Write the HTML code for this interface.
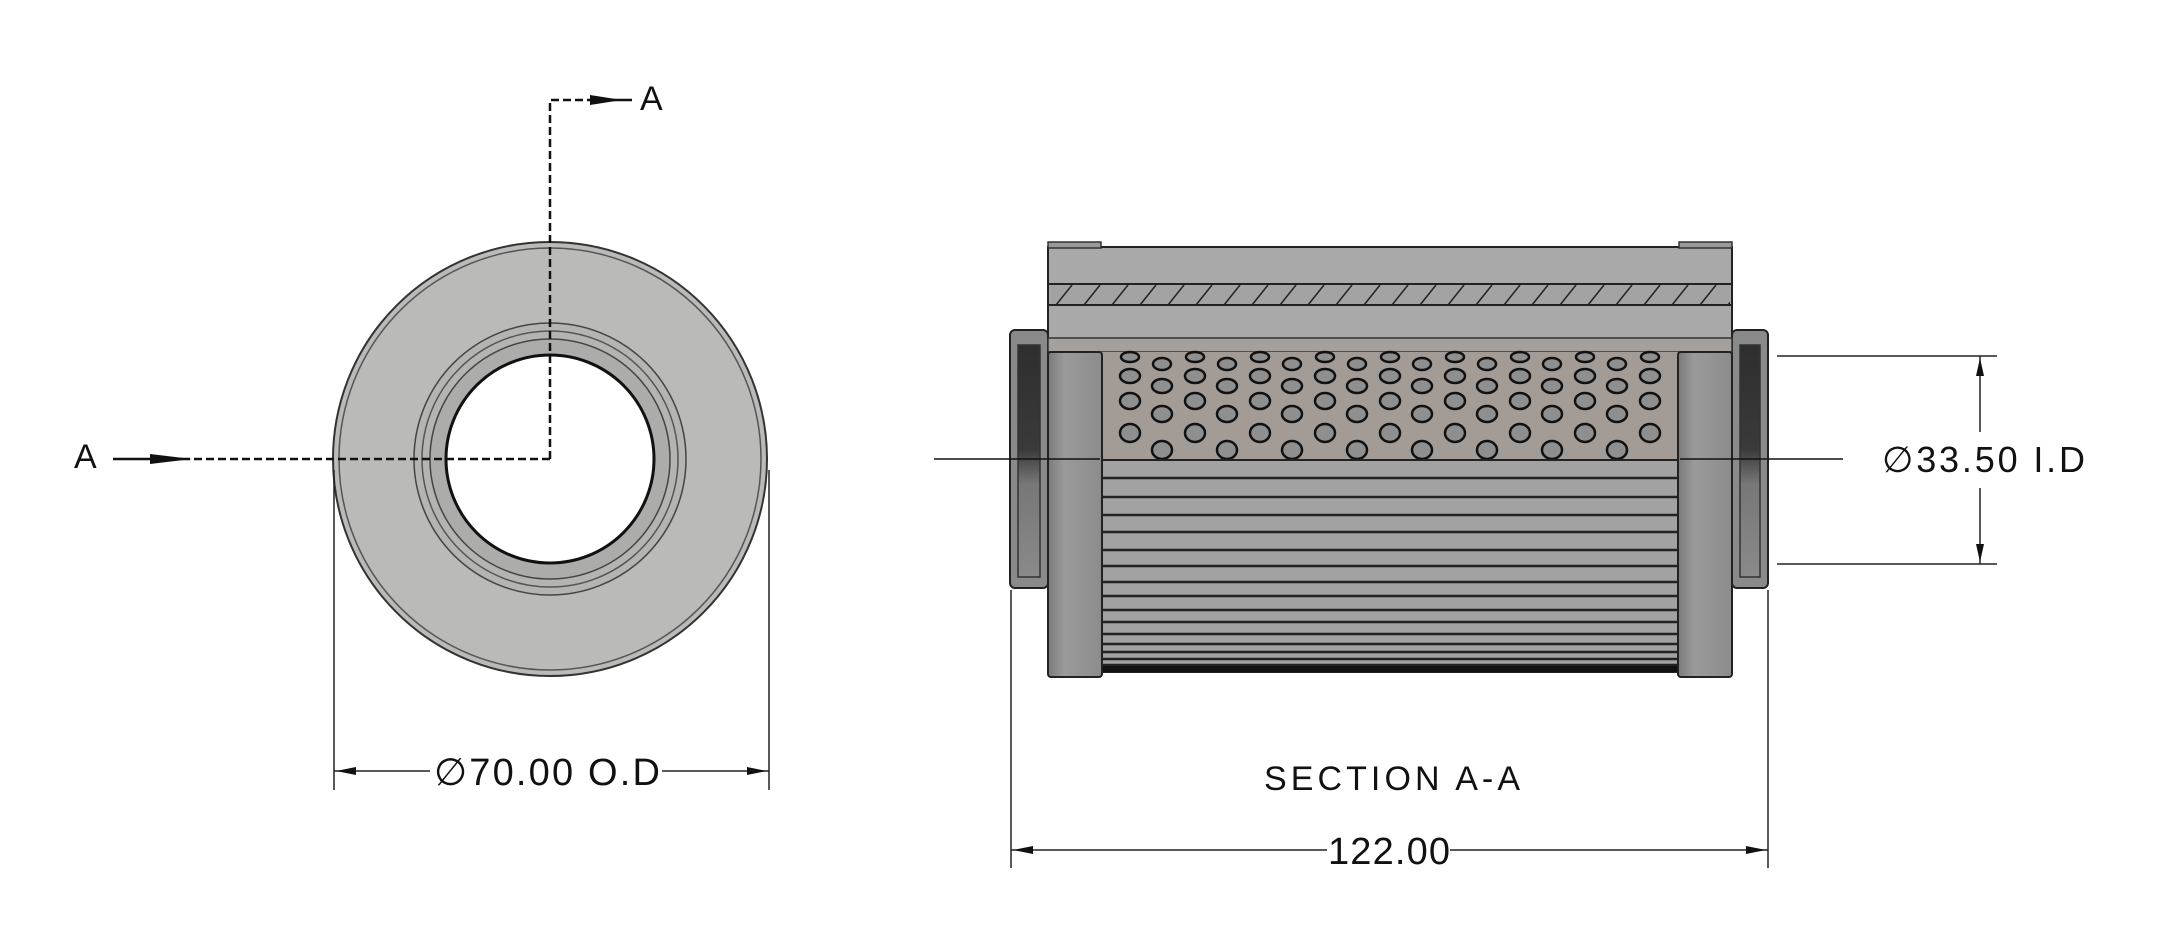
<!DOCTYPE html>
<html><head><meta charset="utf-8"><style>
html,body{margin:0;padding:0;background:#fff}
svg{display:block}
text{font-family:"Liberation Sans",sans-serif;fill:#111}
</style></head><body>
<svg width="2160" height="943" viewBox="0 0 2160 943" xmlns="http://www.w3.org/2000/svg">
<defs>
<linearGradient id="cap" x1="0" x2="1" y1="0" y2="0">
<stop offset="0" stop-color="#7a7a7a"/><stop offset="0.3" stop-color="#9a9a9a"/><stop offset="1" stop-color="#8c8c8c"/>
</linearGradient>
<linearGradient id="inner" x1="0" x2="0" y1="0" y2="1">
<stop offset="0" stop-color="#2e2e2e"/><stop offset="0.45" stop-color="#3a3a3a"/><stop offset="0.6" stop-color="#777"/><stop offset="1" stop-color="#8a8a8a"/>
</linearGradient>
<pattern id="hatch" width="28" height="22" patternUnits="userSpaceOnUse" x="1050" y="284">
<line x1="6" y1="21" x2="22" y2="1" stroke="#222" stroke-width="1.5"/>
</pattern>
</defs>

<!-- LEFT VIEW -->
<circle cx="550" cy="459" r="217" fill="#babbb9" stroke="#333" stroke-width="2"/>
<circle cx="550" cy="459" r="211" fill="none" stroke="#555" stroke-width="1.5"/>
<circle cx="550" cy="459" r="136" fill="#b4b5b3" stroke="#444" stroke-width="1.5"/>
<circle cx="550" cy="459" r="128" fill="none" stroke="#555" stroke-width="1.5"/>
<circle cx="550" cy="459" r="120" fill="#acadab" stroke="#444" stroke-width="1.5"/>
<circle cx="550" cy="459" r="104" fill="#fff" stroke="#111" stroke-width="3"/>
<path d="M550 459 V100 H600" fill="none" stroke="#111" stroke-width="2.5" stroke-dasharray="8,4"/>
<path d="M550 459 H190" fill="none" stroke="#111" stroke-width="2.5" stroke-dasharray="8,4"/>
<line x1="113" y1="459" x2="190" y2="459" stroke="#111" stroke-width="2.5"/>
<polygon points="150,454 192,459 150,464" fill="#111"/>
<line x1="600" y1="100" x2="632" y2="100" stroke="#111" stroke-width="2.5"/>
<polygon points="590,95 622,100 590,105" fill="#111"/>
<text x="640" y="110" font-size="34">A</text>
<text x="74" y="468" font-size="34">A</text>
<line x1="334" y1="470" x2="334" y2="790" stroke="#222" stroke-width="1.5"/>
<line x1="769" y1="470" x2="769" y2="790" stroke="#222" stroke-width="1.5"/>
<line x1="334" y1="771" x2="430" y2="771" stroke="#222" stroke-width="1.5"/>
<line x1="662" y1="771" x2="769" y2="771" stroke="#222" stroke-width="1.5"/>
<polygon points="336,771 356,767 356,775" fill="#111"/>
<polygon points="767,771 747,767 747,775" fill="#111"/>
<text x="547" y="785" font-size="38" text-anchor="middle" textLength="226">∅70.00 O.D</text>

<!-- SECTION VIEW -->
<rect x="1010" y="330" width="38" height="258" rx="5" fill="#8a8a8a" stroke="#222" stroke-width="2"/>
<rect x="1018" y="345" width="22" height="232" fill="url(#inner)" stroke="#333" stroke-width="1.5"/>
<rect x="1732" y="330" width="36" height="258" rx="5" fill="#8a8a8a" stroke="#222" stroke-width="2"/>
<rect x="1740" y="345" width="20" height="232" fill="url(#inner)" stroke="#333" stroke-width="1.5"/>
<rect x="1048" y="247" width="684" height="95" fill="#a9a9a9" stroke="#222" stroke-width="2"/>
<rect x="1050" y="284" width="680" height="21" fill="#a3a3a3"/>
<rect x="1050" y="284" width="680" height="21" fill="url(#hatch)"/>
<line x1="1048" y1="284" x2="1732" y2="284" stroke="#222" stroke-width="2"/>
<line x1="1048" y1="305" x2="1732" y2="305" stroke="#222" stroke-width="2"/>
<rect x="1048" y="242" width="53" height="6" fill="#999" stroke="#333" stroke-width="1.5"/>
<rect x="1679" y="242" width="53" height="6" fill="#999" stroke="#333" stroke-width="1.5"/>
<rect x="1048" y="338" width="684" height="14" fill="#a4a09c" stroke="#333" stroke-width="1.5"/>
<rect x="1102" y="352" width="576" height="108" fill="#a39c96"/>
<g fill="#8f8f8f" stroke="#111" stroke-width="2.5">
<g id="colA">
<ellipse cx="1130" cy="357" rx="9" ry="5"/>
<ellipse cx="1130" cy="376" rx="10" ry="7"/>
<ellipse cx="1130" cy="401" rx="10" ry="8"/>
<ellipse cx="1130" cy="433" rx="10" ry="9"/>
</g>
<g id="colB">
<ellipse cx="1162" cy="364" rx="9" ry="6"/>
<ellipse cx="1162" cy="386" rx="10" ry="7"/>
<ellipse cx="1162" cy="414" rx="10" ry="8"/>
<ellipse cx="1162" cy="450" rx="10" ry="9"/>
</g>
<use href="#colA" x="65"/><use href="#colB" x="65"/>
<use href="#colA" x="130"/><use href="#colB" x="130"/>
<use href="#colA" x="195"/><use href="#colB" x="195"/>
<use href="#colA" x="260"/><use href="#colB" x="260"/>
<use href="#colA" x="325"/><use href="#colB" x="325"/>
<use href="#colA" x="390"/><use href="#colB" x="390"/>
<use href="#colA" x="455"/><use href="#colB" x="455"/>
<use href="#colA" x="520"/>
</g>
<rect x="1102" y="460" width="576" height="212" fill="#a2a2a2" stroke="#222" stroke-width="2"/>
<g stroke="#222" stroke-width="2.5">
<line x1="1102" y1="478" x2="1678" y2="478"/><line x1="1102" y1="497" x2="1678" y2="497"/>
<line x1="1102" y1="515" x2="1678" y2="515"/><line x1="1102" y1="532" x2="1678" y2="532"/>
<line x1="1102" y1="550" x2="1678" y2="550"/><line x1="1102" y1="566" x2="1678" y2="566"/>
<line x1="1102" y1="582" x2="1678" y2="582"/><line x1="1102" y1="596" x2="1678" y2="596"/>
<line x1="1102" y1="610" x2="1678" y2="610"/><line x1="1102" y1="622" x2="1678" y2="622"/>
<line x1="1102" y1="634" x2="1678" y2="634"/><line x1="1102" y1="644" x2="1678" y2="644"/>
<line x1="1102" y1="652" x2="1678" y2="652"/><line x1="1102" y1="659" x2="1678" y2="659"/>
<line x1="1102" y1="665" x2="1678" y2="665"/>
</g>
<rect x="1102" y="666" width="576" height="6" fill="#111"/>
<rect x="1048" y="352" width="54" height="325" rx="3" fill="url(#cap)" stroke="#222" stroke-width="2"/>
<rect x="1678" y="352" width="54" height="325" rx="3" fill="url(#cap)" stroke="#222" stroke-width="2"/>
<line x1="934" y1="459" x2="1100" y2="459" stroke="#111" stroke-width="1.5"/>
<line x1="1680" y1="459" x2="1843" y2="459" stroke="#111" stroke-width="1.5"/>
<line x1="1777" y1="356" x2="1997" y2="356" stroke="#222" stroke-width="1.5"/>
<line x1="1777" y1="564" x2="1997" y2="564" stroke="#222" stroke-width="1.5"/>
<line x1="1980" y1="356" x2="1980" y2="432" stroke="#222" stroke-width="1.5"/>
<line x1="1980" y1="488" x2="1980" y2="564" stroke="#222" stroke-width="1.5"/>
<polygon points="1980,358 1976,376 1984,376" fill="#111"/>
<polygon points="1980,562 1976,544 1984,544" fill="#111"/>
<text x="1882" y="472" font-size="36" textLength="203">∅33.50 I.D</text>
<line x1="1011" y1="590" x2="1011" y2="868" stroke="#222" stroke-width="1.5"/>
<line x1="1768" y1="590" x2="1768" y2="868" stroke="#222" stroke-width="1.5"/>
<line x1="1011" y1="850" x2="1327" y2="850" stroke="#222" stroke-width="1.5"/>
<line x1="1450" y1="850" x2="1768" y2="850" stroke="#222" stroke-width="1.5"/>
<polygon points="1013,850 1033,846 1033,854" fill="#111"/>
<polygon points="1766,850 1746,846 1746,854" fill="#111"/>
<text x="1389" y="864" font-size="38" text-anchor="middle" textLength="122">122.00</text>
<text x="1392" y="790" font-size="34" text-anchor="middle" textLength="256">SECTION A-A</text>
</svg>
</body></html>
